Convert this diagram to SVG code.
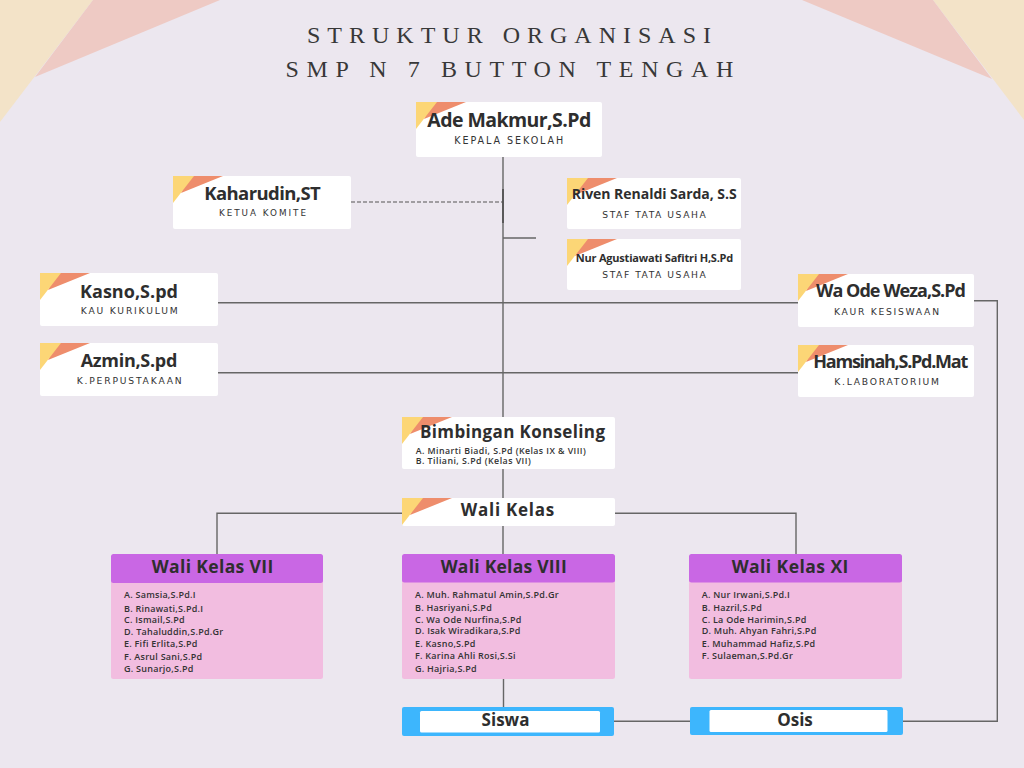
<svg xmlns="http://www.w3.org/2000/svg" xmlns:xlink="http://www.w3.org/1999/xlink" width="1024" height="768" viewBox="0 0 1024 768">
<style>
.bg{fill:#ece7ef}
.box{fill:#ffffff}
.ln{stroke:#666;stroke-width:1.4;fill:none}
.dash{stroke:#555;stroke-width:1.2;fill:none;stroke-dasharray:4 2}
.ttl{font-family:"Liberation Serif","DejaVu Serif",serif;font-size:24px;fill:#383838}
.nm{font-family:"Open Sans","Liberation Sans",sans-serif;font-weight:700;fill:#2e2e2e}
.ctr{text-anchor:middle}
.sub{font-family:"DejaVu Sans","Liberation Sans",sans-serif;font-size:9.2px;fill:#333}
.bkl{font-family:"Open Sans","Liberation Sans",sans-serif;font-weight:600;font-size:8.8px;fill:#333}
.li{font-family:"Open Sans","Liberation Sans",sans-serif;font-weight:600;font-size:9px;letter-spacing:0.25px;fill:#333}
.hd{fill:#c967e4}
.bd{fill:#f2bde0}
.bl{fill:#3db6fd}
</style>
<defs>
<g id="deco">
<polygon points="16,0 50,0 8,17" fill="#ee8d6c"/>
<polygon points="0,0 21,0 0,27" fill="#fcd676"/>
</g>
</defs>
<rect class="bg" x="0" y="0" width="1024" height="768"/>
<g id="corners">
<polygon points="0,0 93,0 0,122" fill="#f3e3c8"/>
<polygon points="93,0 220,0 35,77" fill="#eecac4"/>
<polygon points="1024,0 933,0 1024,120" fill="#f3e3c8"/>
<polygon points="933,0 802,0 992,79" fill="#eecac4"/>
</g>
<g id="title">
<text class="ttl" x="307" y="43.3" textLength="404" lengthAdjust="spacing">STRUKTUR ORGANISASI</text>
<text class="ttl" x="285.6" y="76.7" textLength="447.7" lengthAdjust="spacing">SMP N 7 BUTTON TENGAH</text>
</g>
<g id="connectors">
<line class="ln" x1="503" y1="157" x2="503" y2="554"/>
<line class="ln" x1="503" y1="189" x2="503" y2="223" style="stroke:#444"/>
<line class="dash" x1="351" y1="202" x2="503" y2="202"/>
<line class="ln" x1="503" y1="238" x2="536" y2="238"/>
<line class="ln" x1="218" y1="302.7" x2="798" y2="302.7"/>
<line class="ln" x1="218" y1="372.7" x2="798" y2="372.7"/>
<polyline class="ln" points="974,300.7 997.3,300.7 997.3,721.3 903,721.3"/>
<polyline class="ln" points="217,554 217,513.3 796,513.3 796,554"/>
<line class="ln" x1="503.5" y1="679" x2="503.5" y2="707"/>
<line class="ln" x1="614" y1="721.3" x2="690" y2="721.3"/>
</g>
<g id="ade">
<rect class="box" x="416" y="102" width="186" height="55" rx="2"/>
<use xlink:href="#deco" x="416" y="102"/>
<text class="nm" x="427.3" y="127" font-size="19.5" textLength="164">Ade Makmur,S.Pd</text>
<text class="sub" x="454.3" y="144" style="font-size:9.6px" textLength="109">KEPALA SEKOLAH</text>
</g>
<g id="kaharudin">
<rect class="box" x="173" y="176" width="178" height="53" rx="2"/>
<use xlink:href="#deco" x="173" y="176"/>
<text class="nm" x="204.3" y="200" font-size="18.5" textLength="116.4">Kaharudin,ST</text>
<text class="sub" x="219" y="216" style="font-size:8.8px" textLength="87">KETUA KOMITE</text>
</g>
<g id="riven">
<rect class="box" x="567" y="178" width="174" height="51" rx="2"/>
<use xlink:href="#deco" x="567" y="178"/>
<text class="nm" x="571.7" y="199" font-size="14" textLength="165">Riven Renaldi Sarda, S.S</text>
<text class="sub" x="602.3" y="217.7" textLength="103.4">STAF TATA USAHA</text>
</g>
<g id="nur">
<rect class="box" x="567" y="239" width="174" height="51" rx="2"/>
<use xlink:href="#deco" x="567" y="239"/>
<text class="nm" x="575.7" y="261.7" font-size="11" textLength="157.6">Nur Agustiawati Safitri H,S.Pd</text>
<text class="sub" x="602.3" y="278.3" textLength="103.4">STAF TATA USAHA</text>
</g>
<g id="kasno">
<rect class="box" x="40" y="273" width="178" height="53" rx="2"/>
<use xlink:href="#deco" x="40" y="273"/>
<text class="nm" x="80" y="298.3" font-size="18" textLength="98">Kasno,S.pd</text>
<text class="sub" x="80.7" y="314.3" textLength="97">KAU KURIKULUM</text>
</g>
<g id="azmin">
<rect class="box" x="40" y="343" width="178" height="53" rx="2"/>
<use xlink:href="#deco" x="40" y="343"/>
<text class="nm" x="80.7" y="367.3" font-size="18" textLength="96.6">Azmin,S.pd</text>
<text class="sub" x="76.7" y="384.3" textLength="105">K.PERPUSTAKAAN</text>
</g>
<g id="waode">
<rect class="box" x="798" y="274" width="176" height="53" rx="2"/>
<use xlink:href="#deco" x="798" y="274"/>
<text class="nm" x="816" y="297.3" font-size="18" textLength="150">Wa Ode Weza,S.Pd</text>
<text class="sub" x="834" y="315" textLength="105">KAUR KESISWAAN</text>
</g>
<g id="hamsinah">
<rect class="box" x="798" y="345" width="176" height="52" rx="2"/>
<use xlink:href="#deco" x="798" y="345"/>
<text class="nm" x="813.3" y="367.7" font-size="18" textLength="155">Hamsinah,S.Pd.Mat</text>
<text class="sub" x="834.3" y="385" textLength="104.7">K.LABORATORIUM</text>
</g>
<g id="bk">
<rect class="box" x="402" y="417" width="213" height="52" rx="2"/>
<use xlink:href="#deco" x="402" y="417"/>
<text class="nm" x="420" y="438.3" font-size="17" textLength="185">Bimbingan Konseling</text>
<text class="bkl" x="415.7" y="454" textLength="170">A. Minarti Biadi, S.Pd (Kelas IX &amp; VIII)</text>
<text class="bkl" x="415.7" y="464.3" textLength="115">B. Tiliani, S.Pd (Kelas VII)</text>
</g>
<g id="walikelas">
<rect class="box" x="402" y="498" width="213" height="28" rx="2"/>
<use xlink:href="#deco" x="402" y="498"/>
<text class="nm" x="460.7" y="516" font-size="17" textLength="93.6">Wali Kelas</text>
</g>
<g id="wk7">
<rect class="bd" x="111" y="578" width="212" height="101" rx="2.5"/>
<rect class="hd" x="111" y="554" width="212" height="29" rx="2.5"/>
<text class="nm" x="151.7" y="572.7" font-size="17.5" textLength="121.6">Wali Kelas VII</text>
<text class="li" x="124" y="598.3">A. Samsia,S.Pd.I</text>
<text class="li" x="124" y="611.7">B. Rinawati,S.Pd.I</text>
<text class="li" x="124" y="623.3">C. Ismail,S.Pd</text>
<text class="li" x="124" y="635">D. Tahaluddin,S.Pd.Gr</text>
<text class="li" x="124" y="647.3">E. Fifi Erlita,S.Pd</text>
<text class="li" x="124" y="660">F. Asrul Sani,S.Pd</text>
<text class="li" x="124" y="672.3">G. Sunarjo,S.Pd</text>
</g>
<g id="wk8">
<rect class="bd" x="402" y="578" width="213" height="101" rx="2.5"/>
<rect class="hd" x="402" y="554" width="213" height="28.5" rx="2.5"/>
<text class="nm" x="440.7" y="572.7" font-size="17.5" textLength="126">Wali Kelas VIII</text>
<text class="li" x="415" y="597.7">A. Muh. Rahmatul Amin,S.Pd.Gr</text>
<text class="li" x="415" y="611">B. Hasriyani,S.Pd</text>
<text class="li" x="415" y="622.7">C. Wa Ode Nurfina,S.Pd</text>
<text class="li" x="415" y="634.3">D. Isak Wiradikara,S.Pd</text>
<text class="li" x="415" y="646.7">E. Kasno,S.Pd</text>
<text class="li" x="415" y="659.3">F. Karina Ahli Rosi,S.Si</text>
<text class="li" x="415" y="671.7">G. Hajria,S.Pd</text>
</g>
<g id="wk11">
<rect class="bd" x="689" y="578" width="213" height="101" rx="2.5"/>
<rect class="hd" x="689" y="554" width="213" height="28.5" rx="2.5"/>
<text class="nm" x="731.7" y="572.7" font-size="17.5" textLength="116.6">Wali Kelas XI</text>
<text class="li" x="701.7" y="597.7">A. Nur Irwani,S.Pd.I</text>
<text class="li" x="701.7" y="611">B. Hazril,S.Pd</text>
<text class="li" x="701.7" y="622.7">C. La Ode Harimin,S.Pd</text>
<text class="li" x="701.7" y="634.3">D. Muh. Ahyan Fahri,S.Pd</text>
<text class="li" x="701.7" y="646.7">E. Muhammad Hafiz,S.Pd</text>
<text class="li" x="701.7" y="659.3">F. Sulaeman,S.Pd.Gr</text>
</g>
<g id="siswa">
<rect class="bl" x="402" y="707" width="212" height="29" rx="2"/>
<rect class="box" x="420" y="711" width="180" height="21.5" rx="1.5"/>
<text class="nm ctr" x="505.5" y="726" font-size="17">Siswa</text>
</g>
<g id="osis">
<rect class="bl" x="690" y="707" width="213" height="28" rx="2"/>
<rect class="box" x="709.5" y="710" width="178" height="22" rx="1.5"/>
<text class="nm ctr" x="795" y="726" font-size="17">Osis</text>
</g>
</svg>
